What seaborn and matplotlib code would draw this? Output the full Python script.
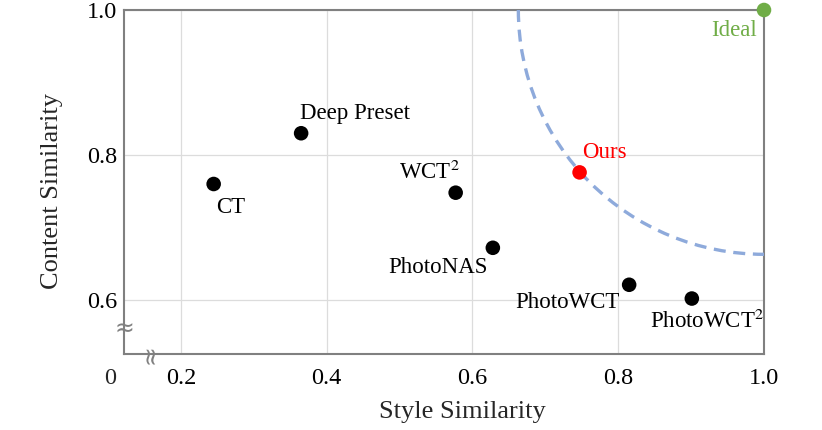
import matplotlib
matplotlib.use("Agg")
import matplotlib.pyplot as plt
import seaborn as sns
from matplotlib.patches import Arc

# baseline methods
methods = ['CT', 'Deep Preset', 'WCT$^2$', 'PhotoNAS', 'PhotoWCT', 'PhotoWCT$^2$']
style_sim = [0.245, 0.365, 0.577, 0.628, 0.815, 0.901]
content_sim = [0.760, 0.830, 0.748, 0.672, 0.621, 0.602]

ours_style = [0.747]
ours_content = [0.776]
ideal_style = [1.0]
ideal_content = [1.0]
frontier_radius = 0.337

xticks = [0.2, 0.4, 0.6, 0.8, 1.0]
yticks = [0.6, 0.8, 1.0]

sns.set_style("whitegrid")
plt.rcParams['font.family'] = ['Liberation Serif', 'DejaVu Serif']
plt.rcParams['mathtext.fontset'] = 'stix'

fig = plt.figure(figsize=(8.22, 4.30), dpi=100)
ax = fig.add_axes([124 / 822, 1 - 354 / 430, 640 / 822, 344 / 430])

sns.scatterplot(x=style_sim, y=content_sim, color='black', s=110, edgecolor='none', ax=ax, zorder=4)
sns.scatterplot(x=ours_style, y=ours_content, color='#ff0000', s=110, edgecolor='none', ax=ax, zorder=4)
sns.scatterplot(x=ideal_style, y=ideal_content, color='#70ad47', s=110, edgecolor='none', ax=ax,
                zorder=5, clip_on=False)

# pareto-like frontier around the ideal point
arc = Arc((ideal_style[0], ideal_content[0]), 2 * frontier_radius, 2 * frontier_radius,
          theta1=180, theta2=270, color='#8eaadb', lw=2.4, ls=(0, (3.6, 2.3)), zorder=3)
ax.add_patch(arc)

offsets = {
    'CT': ((12, -17), 'center'),
    'Deep Preset': ((-1, 14.5), 'left'),
    'WCT$^2$': ((3, 14.5), 'right'),
    'PhotoNAS': ((-4, -14), 'right'),
    'PhotoWCT': ((-7, -13), 'right'),
    'PhotoWCT$^2$': ((11, -16.5), 'center'),
}
for name, x, y in zip(methods, style_sim, content_sim):
    off, ha = offsets[name]
    ax.annotate(name, (x, y), xytext=off, textcoords='offset points',
                ha=ha, va='center', fontsize=16.5, color='black')

ax.annotate('Ours', (ours_style[0], ours_content[0]), xytext=(1.5, 14), textcoords='offset points',
            ha='left', va='center', fontsize=16.5, color='#ff0000')
ax.annotate('Ideal', (ideal_style[0], ideal_content[0]), xytext=(-5, -15), textcoords='offset points',
            ha='right', va='center', fontsize=16.5, color='#70ad47')

ax.set_xlim(0.122, 1.0)
ax.set_ylim(0.5255, 1.0)
ax.set_xticks(xticks)
ax.set_yticks(yticks)
ax.set_xticklabels([f"{t:.1f}" for t in xticks])
ax.set_yticklabels([f"{t:.1f}" for t in yticks])
ax.tick_params(axis='both', length=0, labelsize=17.5, colors='black')
ax.tick_params(axis='x', pad=10)
ax.tick_params(axis='y', pad=5)

ax.grid(True, color='#dcdcdc', lw=0.9)
for sp in ax.spines.values():
    sp.set_color('#808080')
    sp.set_linewidth(1.5)

ax.set_xlabel("Style Similarity", fontsize=19)
ax.set_ylabel("Content Similarity", fontsize=19)
ax.xaxis.set_label_coords(0.528, -0.138)
ax.yaxis.set_label_coords(-0.095, 0.474)

# shared origin label and axis breaks
ax.annotate('0', (0, 0), xycoords='axes fraction', xytext=(-10, -10), textcoords='offset points',
            ha='center', va='top', fontsize=17.5)
ax.text(0, 0.073, '≈', transform=ax.transAxes, ha='center', va='center', fontsize=17,
        color='#808080', family='DejaVu Sans')
ax.text(0.041, 0, '≈', transform=ax.transAxes, ha='center', va='center', fontsize=17,
        color='#808080', rotation=90, family='DejaVu Sans')

plt.savefig("out.png", dpi=100)
